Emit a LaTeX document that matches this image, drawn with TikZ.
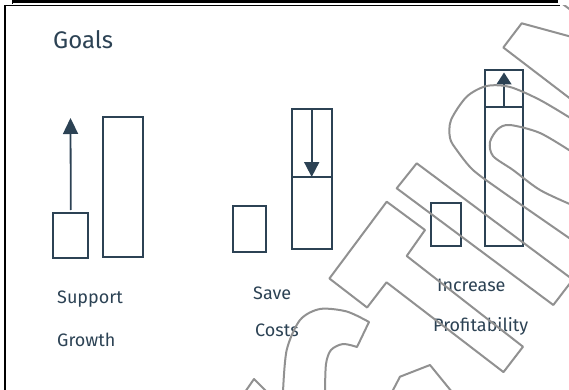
\documentclass[tikz,border=0pt]{standalone}
\usepackage{fontspec}
\setmainfont{Fira Sans}
\usetikzlibrary{arrows.meta, positioning}
\definecolor{inkBlue}{RGB}{44, 66, 84}
\definecolor{markGray}{RGB}{145, 145, 145}

\begin{document}
\begin{tikzpicture}[x=1pt, y=-1pt,
    sketchbox/.style={rectangle, draw=inkBlue, line width=1.8pt, inner sep=0pt, outer sep=0pt, anchor=north west},
    sketcharrow/.style={draw=inkBlue, line width=1.8pt},
    goaltext/.style={text=inkBlue, anchor=base west, inner sep=0pt, font=\fontsize{18}{22}\selectfont},
    markline/.style={draw=markGray, line width=2pt, line join=round}]
    \useasboundingbox (0,0) rectangle (569,390);

    % page frame
    \draw[line width=3pt] (12,1.5) -- (558,1.5);
    \draw[line width=1pt] (12,0) -- (12,4);
    \draw[line width=1.2pt] (5,390) -- (5,5.8) -- (560,5.8);

    \node[goaltext, font=\fontsize{24}{28}\selectfont] (goalstitle) at (53,49) {Goals};

    % support growth
    \node[sketchbox, minimum width=35pt, minimum height=45pt] (growsmall) at (53.3,213) {};
    \node[sketchbox, minimum width=40pt, minimum height=140pt] (growtall) at (103,117) {};
    \coordinate (growtip) at (70.5,118);
    \draw[sketcharrow, -{Triangle[width=15pt, length=16pt]}] ([yshift=3pt]growsmall.north) -- (growtip);
    \node[goaltext] (supportlbl) at (57,303) {Support};
    \node[goaltext] (growthlbl) at (57,346) {Growth};

    % save costs
    \node[sketchbox, minimum width=33.3pt, minimum height=46pt] (costsmall) at (232.7,206) {};
    \node[sketchbox, minimum width=40pt, minimum height=68pt] (costtop) at (291.7,109) {};
    \node[sketchbox, minimum width=40pt, minimum height=72pt, below=0pt of costtop] (costbottom) {};
    \draw[sketcharrow, -{Triangle[width=15pt, length=15pt]}] (costtop.north) -- (costtop.south);
    \node[goaltext] (savelbl) at (253,299) {Save};
    \node[goaltext] (costslbl) at (255,336) {Costs};

    % increase profitability
    \node[sketchbox, minimum width=30pt, minimum height=43pt] (profitsmall) at (430.7,203) {};
    \node[sketchbox, minimum width=38pt, minimum height=37pt] (profittop) at (485,70) {};
    \node[sketchbox, minimum width=38pt, minimum height=139pt, below=0pt of profittop] (profitbottom) {};
    \draw[sketcharrow, -{Triangle[width=15pt, length=12pt]}] (profittop.south) -- ([yshift=-2.5pt]profittop.north);
    \node[goaltext] (increaselbl) at (437,291) {Increase};
    \node[goaltext] (profitlbl) at (433,331) {Profitability};

    % watermark letters
    \begin{scope}
        \clip (5,5.8) rectangle (569,390);
        \draw[markline] plot[smooth] coordinates {(283,392) (286.7,350) (300,320) (320,309) (346.7,311.5) (369,322)}
            -- plot[smooth] coordinates {(357,347) (343,344) (331,350) (326,364) (325,392)};
        \draw[markline] (329.4,278.5) -- (386.7,201.7) -- (425,230) -- (406.7,256) -- (523,346.7)
            -- (503.5,372.1) -- (386.5,282.3) -- (367.1,307.5) -- cycle;
        \draw[markline] (416.7,163.3) -- (396.7,188.3) -- (553.3,305) -- (572.8,279.6) -- cycle;
        \draw[markline] plot[smooth] coordinates {(572,119) (540,100) (510,87) (486.7,86) (466.7,96.7) (451,120)
            (450,138) (456.7,150) (473,170) (500,190) (533,213) (572,240)};
        \draw[markline] plot[smooth] coordinates {(572,152) (540,133) (510,125) (498,129) (490,142) (493,156)
            (513,170) (540,190) (572,205)};
        \draw[markline] (572,37) -- (521.7,23.3) -- (503.3,47.5) -- (572,100);
        \draw[markline] (556,-1) -- (572,11);
        \draw[markline] (392,392) -- (400,376.7) -- (430,365) -- (452,392);
        \draw[markline] (245,392) -- (254,379) -- (267,392);
    \end{scope}
\end{tikzpicture}
\end{document}
